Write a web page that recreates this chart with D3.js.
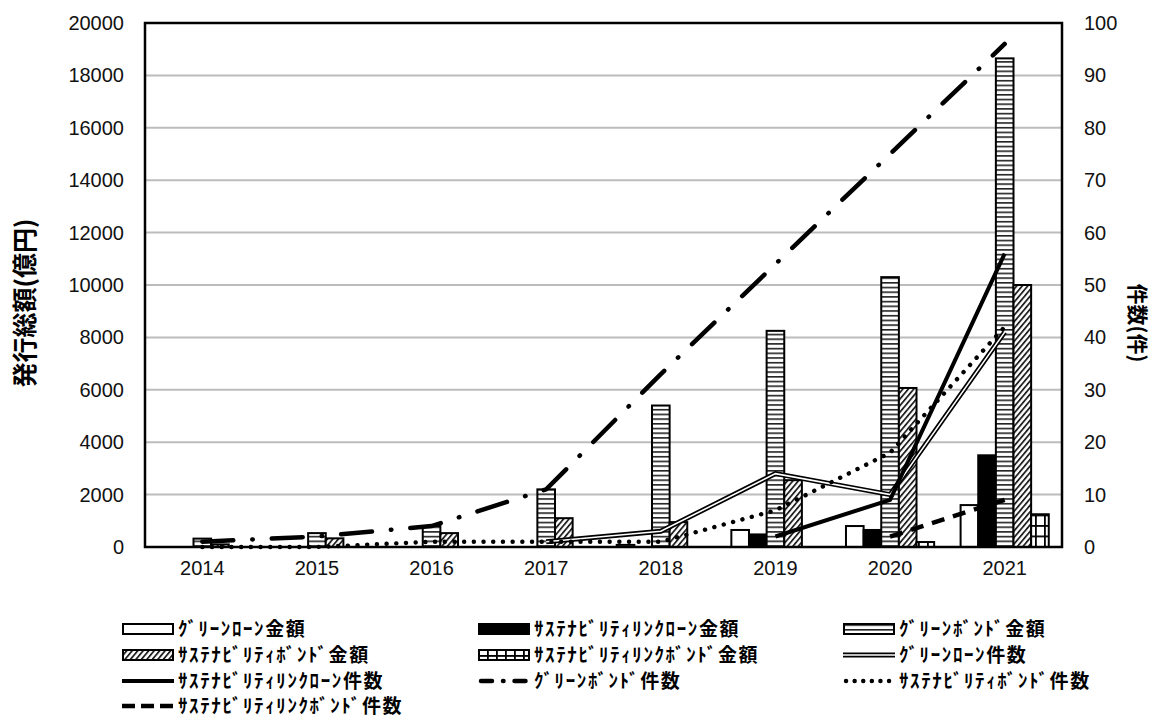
<!DOCTYPE html>
<html>
<head>
<meta charset="utf-8">
<script src="https://cdn.jsdelivr.net/npm/d3@7"></script>
<style>
  body { margin: 0; background: #fff; }
  text { font-family: "Liberation Sans", Arial, sans-serif; }
  .jp { font-family: "Noto Sans CJK JP", sans-serif; font-weight: bold; }
</style>
</head>
<body>
<svg width="1157" height="720"></svg>
<script>
// data
var years = ["2014", "2015", "2016", "2017", "2018", "2019", "2020", "2021"];

var greenLoanAmt  = [0, 0, 0, 0, 80, 650, 800, 1600];
var sllAmt        = [0, 0, 0, 0, 0, 480, 650, 3500];
var greenBondAmt  = [320, 530, 800, 2200, 5400, 8250, 10300, 18650];
var sustBondAmt   = [100, 330, 530, 1100, 950, 2550, 6070, 10000];
var slbAmt        = [0, 0, 0, 0, 0, 0, 190, 1250];

var greenLoanCnt  = [null, null, null, 1, 3, 14, 10, 41];
var sllCnt        = [null, null, null, null, null, 2, 9, 56];
var greenBondCnt  = [1, 2, 4, 11, 33, 54, 75, 96];
var sustBondCnt   = [0, 0, 1, 1, 1, 7, 18, 42];
var slbCnt        = [null, null, null, null, null, null, 2, 9];

var leftTicks  = [0, 2000, 4000, 6000, 8000, 10000, 12000, 14000, 16000, 18000, 20000];
var rightTicks = [0, 10, 20, 30, 40, 50, 60, 70, 80, 90, 100];

var barSeries = [
  {key: "gl",  name: "ｸﾞﾘｰﾝﾛｰﾝ金額", values: greenLoanAmt, fill: "#fff"},
  {key: "sll", name: "ｻｽﾃﾅﾋﾞﾘﾃｨﾘﾝｸﾛｰﾝ金額", values: sllAmt, fill: "#000"},
  {key: "gb",  name: "ｸﾞﾘｰﾝﾎﾞﾝﾄﾞ金額", values: greenBondAmt, fill: "url(#hstripe)"},
  {key: "sb",  name: "ｻｽﾃﾅﾋﾞﾘﾃｨﾎﾞﾝﾄﾞ金額", values: sustBondAmt, fill: "url(#diag)"},
  {key: "slb", name: "ｻｽﾃﾅﾋﾞﾘﾃｨﾘﾝｸﾎﾞﾝﾄﾞ金額", values: slbAmt, fill: "url(#grid)"}
];

var lineSeries = [
  {key: "glc",  name: "ｸﾞﾘｰﾝﾛｰﾝ件数", values: greenLoanCnt, style: "double"},
  {key: "sllc", name: "ｻｽﾃﾅﾋﾞﾘﾃｨﾘﾝｸﾛｰﾝ件数", values: sllCnt, width: 4, dash: null, cap: "butt", ldash: null},
  {key: "gbc",  name: "ｸﾞﾘｰﾝﾎﾞﾝﾄﾞ件数", values: greenBondCnt, width: 4.5, dash: "31 19 0.5 19", cap: "round", ldash: "11 11 0.5 11"},
  {key: "sbc",  name: "ｻｽﾃﾅﾋﾞﾘﾃｨﾎﾞﾝﾄﾞ件数", values: sustBondCnt, width: 4.4, dash: "0.1 9.6", cap: "round", ldash: "0.1 8.5"},
  {key: "slbc", name: "ｻｽﾃﾅﾋﾞﾘﾃｨﾘﾝｸﾎﾞﾝﾄﾞ件数", values: slbCnt, width: 4.5, dash: "13 9", cap: "butt", ldash: "13 6"}
];

var svg = d3.select("svg"),
    mL = 145, mR = 1062, mT = 23, mB = 547;

// patterns
var defs = svg.append("defs");
var p1 = defs.append("pattern").attr("id", "hstripe").attr("patternUnits", "userSpaceOnUse")
    .attr("width", 8).attr("height", 4.7);
p1.append("rect").attr("width", 8).attr("height", 4.7).attr("fill", "#fff");
p1.append("rect").attr("y", 0).attr("width", 8).attr("height", 1.6).attr("fill", "#222");

var p2 = defs.append("pattern").attr("id", "diag").attr("patternUnits", "userSpaceOnUse")
    .attr("width", 4.2).attr("height", 4.2).attr("patternTransform", "rotate(40)");
p2.append("rect").attr("width", 4.2).attr("height", 4.2).attr("fill", "#fff");
p2.append("rect").attr("width", 1.8).attr("height", 4.2).attr("fill", "#222");

var p3 = defs.append("pattern").attr("id", "grid").attr("patternUnits", "userSpaceOnUse")
    .attr("width", 9).attr("height", 10.5);
p3.append("rect").attr("width", 9).attr("height", 10.5).attr("fill", "#fff");
p3.append("rect").attr("width", 9).attr("height", 1.8).attr("fill", "#000");
p3.append("rect").attr("width", 1.8).attr("height", 10.5).attr("fill", "#000");

// scales
var x = d3.scaleBand().domain(years).range([mL, mR]).padding(0);
var xi = d3.scaleBand().domain(barSeries.map(d => d.key)).range([0, x.bandwidth()])
    .paddingInner(0).paddingOuter(0.75);
var yL = d3.scaleLinear().domain([0, 20000]).range([mB, mT]);
var yR = d3.scaleLinear().domain([0, 100]).range([mB, mT]);

// gridlines
svg.append("g").selectAll("line").data(leftTicks.slice(1, -1)).enter().append("line")
    .attr("x1", mL).attr("x2", mR)
    .attr("y1", d => yL(d)).attr("y2", d => yL(d))
    .attr("stroke", "#bcbcbc").attr("stroke-width", 2);

// bars
var barG = svg.append("g");
barSeries.forEach(function(s) {
  barG.append("g").selectAll("rect")
    .data(s.values.map((v, i) => ({year: years[i], v: v})).filter(d => d.v > 0))
    .enter().append("rect")
      .attr("x", d => x(d.year) + xi(s.key))
      .attr("y", d => yL(d.v))
      .attr("width", xi.bandwidth())
      .attr("height", d => yL(0) - yL(d.v))
      .attr("fill", s.fill)
      .attr("stroke", "#000").attr("stroke-width", 2);
});

// lines
function lineGen(vals) {
  return d3.line()
    .defined(d => d != null)
    .x((d, i) => x(years[i]) + x.bandwidth() / 2)
    .y(d => yR(d))(vals);
}
var lineG = svg.append("g").attr("fill", "none");
lineSeries.forEach(function(s) {
  if (s.style === "double") {
    lineG.append("path").attr("d", lineGen(s.values)).attr("stroke", "#000").attr("stroke-width", 5);
    lineG.append("path").attr("d", lineGen(s.values)).attr("stroke", "#fff").attr("stroke-width", 1.6);
  } else {
    lineG.append("path").attr("d", lineGen(s.values))
      .attr("stroke", "#000").attr("stroke-width", s.width)
      .attr("stroke-dasharray", s.dash).attr("stroke-linecap", s.cap);
  }
});

// frame
svg.append("rect").attr("x", mL).attr("y", mT).attr("width", mR - mL).attr("height", mB - mT)
    .attr("fill", "none").attr("stroke", "#000").attr("stroke-width", 2.5);

// axes
var axL = svg.append("g").attr("transform", "translate(" + mL + ",0)")
    .call(d3.axisLeft(yL).tickValues(leftTicks).tickSize(0).tickPadding(21).tickFormat(d3.format("d")));
var axR = svg.append("g").attr("transform", "translate(" + mR + ",0)")
    .call(d3.axisRight(yR).tickValues(rightTicks).tickSize(0).tickPadding(22));
var axB = svg.append("g").attr("transform", "translate(0," + mB + ")")
    .call(d3.axisBottom(x).tickSize(0).tickPadding(14));
[axL, axR, axB].forEach(function(a) {
  a.select(".domain").remove();
  a.selectAll("text").attr("font-size", 20).attr("fill", "#111")
    .attr("font-family", "'Liberation Sans', Arial, sans-serif");
});

// axis titles
svg.append("text").attr("class", "jp")
    .attr("transform", "translate(34,303) rotate(-90)")
    .attr("text-anchor", "middle").attr("font-size", 25).text("発行総額(億円)");
svg.append("text").attr("class", "jp")
    .attr("transform", "translate(1130,323) rotate(90)")
    .attr("text-anchor", "middle").attr("font-size", 21).text("件数(件)");

// legend
var legendItems = [
  {s: barSeries[0], t: "bar"}, {s: barSeries[1], t: "bar"}, {s: barSeries[2], t: "bar"},
  {s: barSeries[3], t: "bar"}, {s: barSeries[4], t: "bar"}, {s: lineSeries[0], t: "line"},
  {s: lineSeries[1], t: "line"}, {s: lineSeries[2], t: "line"}, {s: lineSeries[3], t: "line"},
  {s: lineSeries[4], t: "line"}
];
var colX = [122, 478, 843], rowY = [629, 655, 681, 706];
var lg = svg.append("g");
legendItems.forEach(function(item, i) {
  var g = lg.append("g")
    .attr("transform", "translate(" + colX[i % 3] + "," + rowY[Math.floor(i / 3)] + ")");
  var s = item.s;
  if (item.t === "bar") {
    g.append("rect").attr("x", 1).attr("y", -5).attr("width", 50).attr("height", 10)
      .attr("fill", s.fill).attr("stroke", "#000").attr("stroke-width", 2);
  } else if (s.style === "double") {
    g.append("line").attr("x1", 0).attr("x2", 52).attr("stroke", "#000").attr("stroke-width", 5);
    g.append("line").attr("x1", 0).attr("x2", 52).attr("stroke", "#fff").attr("stroke-width", 1.6);
  } else {
    g.append("line").attr("x1", s.cap === "round" ? 3 : 0).attr("x2", 52)
      .attr("stroke", "#000").attr("stroke-width", s.width)
      .attr("stroke-dasharray", s.ldash)
      .attr("stroke-linecap", s.cap);
  }
  g.append("text").attr("class", "jp").attr("x", 56).attr("y", 0).attr("dy", "0.36em")
    .attr("font-size", 19).attr("letter-spacing", 1.6).text(s.name);
});
</script>
</body>
</html>
